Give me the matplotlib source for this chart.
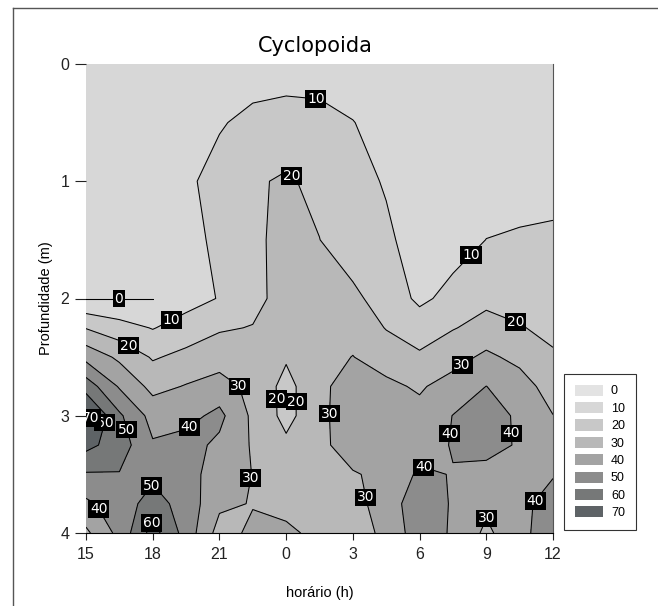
import numpy as np
import matplotlib
matplotlib.use('Agg')
import matplotlib.pyplot as plt
from matplotlib.patches import Patch
from matplotlib.lines import Line2D

plt.rcParams['font.family'] = ['DejaVu Sans']

# eixo x: horas corridas (15h do dia 1 ate 12h do dia 2), a cada 1.5 h
horas = [15, 16.5, 18, 19.5, 21, 22.5, 24, 25.5, 27, 28.5, 30, 31.5, 33, 34.5, 36]
hora_ticks = [15, 18, 21, 24, 27, 30, 33, 36]
hora_rotulos = ['15', '18', '21', '0', '3', '6', '9', '12']
prof = [0, 0.5, 1.0, 1.5, 2.0, 2.25, 2.5, 2.75, 3.0, 3.25, 3.5, 3.75, 4.0]

# densidade de Cyclopoida em cada profundidade
p000 = [3, 3, 4, 3, 4, 4, 4, 4, 4, 3, 3, 3, 3, 3, 3]
p050 = [3, 3, 4, 6, 9, 13, 15, 14, 10.3, 6, 5, 4, 4, 4, 4]
p100 = [3, 3, 4, 8, 14, 19, 21, 18, 14, 9, 6, 5, 5.5, 6, 7]
p150 = [3, 3, 4, 7, 12, 18, 23, 20.1, 15, 12, 5, 6, 10.1, 11.1, 11.5]
p200 = [0, 0, 0, 6, 10.5, 17, 24, 25, 22, 16, 8, 13, 18, 17, 15]
p225 = [19.5, 13.9, 9.5, 14.3, 19, 20.4, 24, 26, 27, 19.5, 15.1, 19.5, 23, 20.5, 18]
p250 = [37, 28, 19, 22.7, 25.3, 24, 21, 27, 30.2, 26, 21.5, 26, 32.2, 27, 21]
p275 = [55.75, 39, 27, 30.6, 34.3, 27, 17, 27, 36, 32, 28.8, 34.3, 40.1, 35, 25]
p300 = [73.5, 51.7, 36.4, 37, 42.5, 28, 17, 27, 37, 36, 33, 40.2, 44, 38.5, 30.2]
p325 = [63, 55, 41, 43.5, 38, 29, 22, 27, 36, 37, 36, 40.6, 45, 38.5, 36]
p350 = [49, 49.5, 48, 44, 35, 29.8, 26, 27, 29, 33, 41.6, 39.6, 35.4, 37, 39.5]
p375 = [38, 45, 54, 46, 32, 29.5, 28.5, 27, 27, 34, 47, 38.9, 32, 38, 43]
p400 = [28, 43, 64, 46, 26, 32, 31, 28.7, 26, 32, 46, 38.7, 28, 37, 46]

niveis = [0, 10, 20, 30, 40, 50, 60, 70]
cores_faixa = ['#d7d7d7', '#c8c8c8', '#b8b8b8', '#a3a3a3', '#8c8c8c',
               '#767878', '#5e6366', '#4e5356']
cores_legenda = ['#e3e3e3', '#d7d7d7', '#c8c8c8', '#b8b8b8', '#a3a3a3',
                 '#8c8c8c', '#767878', '#5e6366']

# posicoes aproximadas dos rotulos das isolinhas
pos_rotulos = {
    0: [(16.47, 2.0)],
    10: [(25.3, 0.37), (32.0, 1.57), (18.86, 2.19)],
    20: [(24.3, 0.94), (16.98, 2.38), (34.3, 2.21), (23.42, 2.86), (24.47, 2.88)],
    30: [(31.85, 2.55), (22.02, 2.73), (25.79, 2.98), (22.4, 3.53),
         (28.03, 3.68), (33.02, 3.87)],
    40: [(19.75, 3.12), (31.25, 3.15), (34.27, 3.15), (30.31, 3.37),
         (34.68, 3.65), (16.0, 3.75)],
    50: [(16.79, 3.12), (17.45, 3.53)],
    60: [(16.07, 3.07), (17.88, 3.91)],
    70: [(15.32, 3.03)],
}

Z = np.array([p000, p050, p100, p150, p200, p225, p250, p275, p300,
              p325, p350, p375, p400])
X, Y = np.meshgrid(horas, prof)

fig = plt.figure(figsize=(6.58, 6.06), dpi=100)
ax = fig.add_axes([86 / 658, 1 - 533 / 606, 467 / 658, 469 / 606])

ax.contourf(X, Y, Z, levels=niveis, colors=cores_faixa, extend='max')

textos = []
for lev in niveis:
    cs = ax.contour(X, Y, Z, levels=[lev], colors='black', linewidths=0.75)
    textos += cs.clabel(manual=pos_rotulos[lev], inline=False, fmt='%d',
                        fontsize=10, colors='white')
for t in textos:
    t.set_rotation(0)
    t.set_bbox(dict(boxstyle='square,pad=0.13', fc='black', ec='none'))
    t.set_zorder(5)

ax.set_xlim(15, 36)
ax.set_ylim(4, 0)
ax.set_xticks(hora_ticks)
ax.set_xticklabels(hora_rotulos)
ax.set_yticks([0, 1, 2, 3, 4])
ax.tick_params(axis='both', labelsize=11.5, colors='#222222', direction='out')
ax.tick_params(axis='y', length=8, width=0.8, pad=4)
ax.tick_params(axis='x', length=5, width=0.8, pad=5)
for lab in ax.get_xticklabels() + ax.get_yticklabels():
    lab.set_family('Liberation Sans')

ax.spines['top'].set_visible(False)
ax.spines['left'].set_visible(False)
ax.spines['right'].set_color('#555555')
ax.spines['bottom'].set_color('black')

ax.set_title('Cyclopoida', fontsize=15, pad=9, x=0.49)
ax.set_xlabel('horário (h)', fontsize=10.5, family='Liberation Sans', labelpad=17)
ax.set_ylabel('Profundidade (m)', fontsize=10.5, family='Liberation Sans', labelpad=5)

handles = [Patch(facecolor=c, edgecolor='none') for c in cores_legenda]
leg = fig.legend(handles, [str(n) for n in niveis], loc='upper left',
                 bbox_to_anchor=(564 / 658, 1 - 374 / 606), frameon=True,
                 fancybox=False, edgecolor='black',
                 prop={'family': 'Liberation Sans', 'size': 9},
                 handlelength=2.3, handleheight=1.0, labelspacing=0.36,
                 handletextpad=0.6, borderpad=0.85, borderaxespad=0)
leg.get_frame().set_linewidth(0.8)

# moldura externa da figura
fig.add_artist(Line2D([13 / 658, 13 / 658], [0, 1 - 8 / 606],
                      transform=fig.transFigure, color='#555555', lw=1))
fig.add_artist(Line2D([13 / 658, 1], [1 - 8 / 606, 1 - 8 / 606],
                      transform=fig.transFigure, color='#555555', lw=1))

fig.savefig('out.png', dpi=100)
